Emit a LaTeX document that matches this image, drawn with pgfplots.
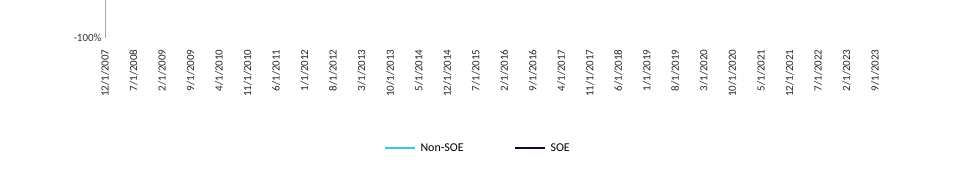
\documentclass[border=0pt]{standalone}
\usepackage{pgfplots}
\pgfplotsset{compat=1.18}
\usepackage{fontspec}
\setmainfont{Carlito}
\definecolor{cyanl}{HTML}{33CCD6}
\definecolor{navy}{HTML}{0B0B3B}
\definecolor{titleblue}{HTML}{1F4FC0}
\begin{document}
\begin{tikzpicture}
\useasboundingbox (-105bp,-139bp) rectangle (853bp,38bp);
\draw[gray!60,line width=1pt] (0bp,100bp)--(803bp,100bp);
\foreach \k in {0,...,28}{\draw[gray!60,line width=0.8pt] ({\k*28.5185bp},100bp)--++(0,-4bp);}
\foreach \k/\l in {0/{12/1/2007},1/{7/1/2008},2/{2/1/2009},3/{9/1/2009},4/{4/1/2010},5/{11/1/2010},6/{6/1/2011},7/{1/1/2012},8/{8/1/2012},9/{3/1/2013},10/{10/1/2013},11/{5/1/2014},12/{12/1/2014},13/{7/1/2015},14/{2/1/2016},15/{9/1/2016},16/{4/1/2017},17/{11/1/2017},18/{6/1/2018},19/{1/1/2019},20/{8/1/2019},21/{3/1/2020},22/{10/1/2020},23/{5/1/2021},24/{12/1/2021},25/{7/1/2022},26/{2/1/2023},27/{9/1/2023}}
 {\node[rotate=90,anchor=east,font=\fontsize{11}{12}\selectfont,text=black!85] at ({\k*28.5185bp},-8bp) {\l};}
\begin{axis}[at={(0,0)},anchor=south west,scale only axis,
 width=803bp,height=250bp,xmin=0,xmax=803,ymin=-100,ymax=150,
 axis x line=none, axis y line*=left, y axis line style={gray!70,line width=0.8pt},
 ytick={-100,-50,0,50,100,150}, yticklabel={\pgfmathprintnumber{\tick}\%},
 major tick length=0pt, yticklabel style={font=\fontsize{11}{12}\selectfont,text=black!80},
 /pgf/number format/assume math mode=true,
 ylabel={Cummulative Returns}, ylabel style={font=\fontsize{12}{14}\selectfont,text=titleblue!80},
 clip=false]
\addplot[cyanl,line width=3pt,line join=round] coordinates {
(0,0)(5,-12)(10,-8)(13,-15)(19,-4)(23,-3)(28,-15)(35,-22)(40,-45)(45,-55)(50,-53)(55,-57)(58,-57)(63,-48)(70,-35)(75,-32)(83,-25)(90,-20)(98,-22)(105,-15)(113,-20)(119,-10)(125,-18)(133,-10)(140,0)(145,3)(150,0)(153,5)(160,8)(167,5)(173,2)(180,2)(185,-10)(190,-15)(195,-5)(200,-10)(207,0)(215,-12)(220,-10)(230,-5)(240,0)(250,5)(260,5)(270,-5)(277,-3)(285,5)(295,0)(305,-5)(315,5)(325,10)(332,15)(337,8)(345,5)(353,8)(360,5)(367,0)(375,-5)(383,-12)(387,-15)(395,-9)(405,-15)(412,-4)(418,-7)(428,3)(438,8)(445,-1)(455,11)(472,28)(482,38)(492,41)(502,55)(508,46)(522,35)(532,31)(538,18)(548,31)(562,36)(567,26)(572,35)(582,28)(595,46)(602,35)(608,13)(615,28)(625,51)(635,56)(645,85)(652,93)(658,88)(668,98)(675,85)(685,78)(695,73)(705,61)(715,48)(725,43)(730,28)(735,20)(742,38)(748,48)(753,40)(762,40)(773,55)(785,35)(793,51)(798,45)(803,55)};
\addplot[navy,line width=3pt,line join=round] coordinates {
(0,0)(5,-12)(10,-10)(15,-8)(20,-5)(25,-10)(30,-18)(35,-25)(40,-48)(45,-55)(50,-52)(55,-53)(60,-56)(65,-45)(70,-35)(75,-30)(83,-23)(90,-20)(98,-22)(105,-18)(113,-22)(119,-18)(125,-20)(133,-12)(140,-10)(150,-7)(157,-5)(163,-2)(170,-5)(177,-8)(183,-28)(187,-20)(193,-25)(200,-15)(207,-18)(215,-27)(225,-23)(235,-18)(245,-18)(253,-13)(260,-17)(270,-25)(280,-20)(290,-15)(300,-23)(310,-18)(320,-17)(327,-13)(335,-18)(343,-20)(350,-17)(360,-15)(365,-8)(372,-12)(383,-30)(390,-33)(395,-35)(405,-42)(415,-34)(422,-35)(432,-27)(445,-27)(455,-22)(472,-20)(482,-14)(495,-10)(502,1)(508,-5)(520,-14)(528,-10)(538,-14)(552,-7)(565,-9)(572,-14)(582,-12)(595,-5)(602,-15)(608,-30)(615,-25)(625,-24)(635,-28)(642,-14)(655,-7)(668,0)(675,-3)(685,0)(692,-3)(698,3)(707,5)(715,1)(722,-3)(728,-3)(735,-12)(742,-5)(755,-2)(765,-5)(773,2)(782,-5)(792,-1)(802,1)};
\node[anchor=west,text=cyanl,font=\fontsize{13}{14}\selectfont\bfseries] at (axis cs:775,61) {\$227.21};
\node[anchor=west,fill=white,inner sep=1pt,font=\fontsize{13}{14}\selectfont\bfseries] at (axis cs:785,-12) {\$141.57};
\node[text=titleblue,font=\fontsize{16}{18}\selectfont\bfseries] at (axis cs:434,150) {Cumulative Growth of \$100: SOEs vs Non-SOEs};
\end{axis}
\begin{scope}[font=\fontsize{12}{14}\selectfont]
\draw[cyanl,line width=3pt] (280bp,-110bp)--(310bp,-110bp);
\node[anchor=west] at (312bp,-110bp) {Non-SOE};
\draw[navy,line width=3pt] (410bp,-110bp)--(440bp,-110bp);
\node[anchor=west] at (442bp,-110bp) {SOE};
\end{scope}
\end{tikzpicture}
\end{document}
